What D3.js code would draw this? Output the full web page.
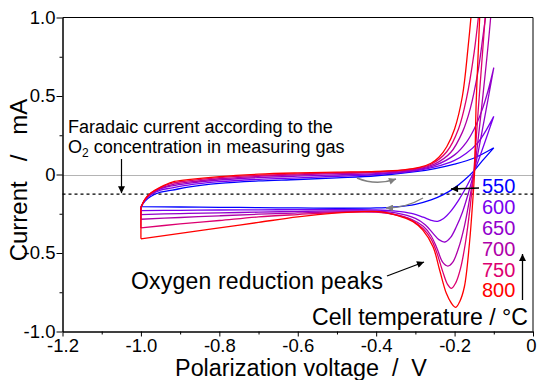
<!DOCTYPE html>
<html>
<head>
<meta charset="utf-8">
<script src="https://cdn.jsdelivr.net/npm/d3@7"></script>
<style>
  body { margin: 0; background: #fff; }
  svg { display: block; font-family: "Liberation Sans", Arial, sans-serif; }
</style>
</head>
<body>
<svg id="chart" width="537" height="380"></svg>
<script>
// ---- data -------------------------------------------------------------
const temperatures = ["550", "600", "650", "700", "750", "800"];
const seriesColors = ["#0000ff", "#7800ee", "#9200cc", "#ae00a8", "#dc0070", "#ff0000"];

// forward sweep: -1.0 V up to the turning point  [voltage V, current mA]
const forward550 = [[-1.0,-0.205],[-0.99,-0.17],[-0.975,-0.14],[-0.95,-0.113],[-0.92,-0.1],[-0.88,-0.08],[-0.8,-0.056],[-0.7,-0.041],[-0.6,-0.032],[-0.5,-0.021],[-0.4,-0.008],[-0.3,0.018],[-0.25,0.038],[-0.2,0.066],[-0.15,0.105],[-0.1,0.17]];
const forward600 = [[-1.0,-0.21],[-0.99,-0.165],[-0.975,-0.13],[-0.95,-0.1],[-0.92,-0.085],[-0.88,-0.067],[-0.8,-0.046],[-0.7,-0.031],[-0.6,-0.021],[-0.5,-0.011],[-0.4,0.0],[-0.3,0.024],[-0.25,0.048],[-0.2,0.09],[-0.17,0.135],[-0.14,0.205],[-0.12,0.28],[-0.1,0.37]];
const forward650 = [[-1.0,-0.21],[-0.99,-0.163],[-0.975,-0.126],[-0.95,-0.092],[-0.92,-0.072],[-0.88,-0.056],[-0.8,-0.035],[-0.7,-0.02],[-0.6,-0.01],[-0.5,-0.002],[-0.4,0.006],[-0.3,0.028],[-0.25,0.058],[-0.2,0.125],[-0.17,0.205],[-0.15,0.29],[-0.13,0.41],[-0.115,0.53],[-0.1,0.68]];
const forward700 = [[-1.0,-0.21],[-0.99,-0.162],[-0.975,-0.123],[-0.95,-0.087],[-0.92,-0.064],[-0.88,-0.049],[-0.8,-0.027],[-0.7,-0.012],[-0.6,-0.002],[-0.5,0.006],[-0.4,0.013],[-0.3,0.033],[-0.25,0.068],[-0.21,0.14],[-0.18,0.27],[-0.16,0.42],[-0.14,0.66],[-0.125,0.93],[-0.112,1.15],[-0.1,1.3]];
const forward750 = [[-1.0,-0.21],[-0.99,-0.16],[-0.975,-0.12],[-0.95,-0.083],[-0.92,-0.055],[-0.88,-0.04],[-0.8,-0.02],[-0.7,-0.006],[-0.6,0.004],[-0.5,0.011],[-0.4,0.017],[-0.3,0.037],[-0.26,0.065],[-0.22,0.145],[-0.19,0.29],[-0.17,0.48],[-0.15,0.78],[-0.135,1.1],[-0.12,1.45],[-0.1,1.75]];
const forward800 = [[-1.0,-0.21],[-0.99,-0.158],[-0.975,-0.118],[-0.95,-0.08],[-0.92,-0.048],[-0.88,-0.033],[-0.8,-0.013],[-0.7,0.002],[-0.6,0.01],[-0.5,0.015],[-0.4,0.02],[-0.33,0.03],[-0.29,0.045],[-0.26,0.072],[-0.24,0.11],[-0.22,0.177],[-0.2,0.29],[-0.18,0.5],[-0.166,0.8],[-0.155,1.1],[-0.145,1.5],[-0.13,2.2],[-0.1,3.5]];

// reverse sweep: turning point back down to -1.0 V
const reverse550 = [[-0.1,0.17],[-0.13,0.085],[-0.15,0.025],[-0.175,-0.035],[-0.2,-0.085],[-0.23,-0.13],[-0.26,-0.162],[-0.3,-0.19],[-0.35,-0.206],[-0.4,-0.213],[-0.5,-0.215],[-0.6,-0.213],[-0.7,-0.211],[-0.8,-0.209],[-0.9,-0.207],[-1.0,-0.205]];
const reverse600 = [[-0.1,0.37],[-0.125,0.19],[-0.15,0.02],[-0.17,-0.08],[-0.19,-0.165],[-0.21,-0.235],[-0.228,-0.28],[-0.243,-0.298],[-0.26,-0.292],[-0.28,-0.272],[-0.31,-0.248],[-0.35,-0.233],[-0.4,-0.226],[-0.5,-0.223],[-0.6,-0.224],[-0.7,-0.225],[-0.8,-0.226],[-0.9,-0.228],[-1.0,-0.23]];
const reverse650 = [[-0.1,0.68],[-0.125,0.34],[-0.15,0.02],[-0.165,-0.12],[-0.18,-0.24],[-0.195,-0.33],[-0.21,-0.4],[-0.225,-0.43],[-0.24,-0.415],[-0.255,-0.375],[-0.275,-0.32],[-0.3,-0.28],[-0.35,-0.245],[-0.4,-0.233],[-0.5,-0.232],[-0.6,-0.235],[-0.7,-0.24],[-0.8,-0.244],[-0.9,-0.249],[-1.0,-0.255]];
const reverse700 = [[-0.1,1.3],[-0.108,1.0],[-0.13,0.45],[-0.15,0.02],[-0.162,-0.16],[-0.175,-0.33],[-0.19,-0.47],[-0.205,-0.56],[-0.217,-0.583],[-0.23,-0.56],[-0.245,-0.47],[-0.26,-0.39],[-0.28,-0.33],[-0.31,-0.285],[-0.35,-0.255],[-0.4,-0.238],[-0.5,-0.238],[-0.6,-0.245],[-0.7,-0.253],[-0.8,-0.263],[-0.9,-0.274],[-1.0,-0.285]];
const reverse750 = [[-0.1,1.75],[-0.122,1.0],[-0.14,0.4],[-0.151,0.02],[-0.16,-0.2],[-0.172,-0.43],[-0.185,-0.6],[-0.197,-0.69],[-0.208,-0.725],[-0.218,-0.7],[-0.23,-0.62],[-0.245,-0.5],[-0.26,-0.41],[-0.28,-0.345],[-0.31,-0.29],[-0.35,-0.257],[-0.4,-0.24],[-0.5,-0.242],[-0.6,-0.255],[-0.7,-0.27],[-0.8,-0.293],[-0.9,-0.315],[-1.0,-0.34]];
const reverse800 = [[-0.1,3.5],[-0.136,1.0],[-0.145,0.45],[-0.149,0.02],[-0.154,-0.18],[-0.162,-0.436],[-0.175,-0.715],[-0.187,-0.81],[-0.197,-0.846],[-0.208,-0.82],[-0.221,-0.757],[-0.238,-0.61],[-0.255,-0.46],[-0.281,-0.354],[-0.306,-0.3],[-0.349,-0.258],[-0.391,-0.237],[-0.45,-0.238],[-0.5,-0.245],[-0.6,-0.27],[-0.7,-0.305],[-0.8,-0.34],[-0.9,-0.375],[-1.0,-0.41]];

const forwardSweeps = [forward550, forward600, forward650, forward700, forward750, forward800];
const reverseSweeps = [reverse550, reverse600, reverse650, reverse700, reverse750, reverse800];

const xMajorTicks = [-1.2, -1.0, -0.8, -0.6, -0.4, -0.2, 0];
const xTickLabels = ["-1.2", "-1.0", "-0.8", "-0.6", "-0.4", "-0.2", "0"];
const xMinorTicks = [-1.1, -0.9, -0.7, -0.5, -0.3, -0.1];
const yMajorTicks = [-1.0, -0.5, 0, 0.5, 1.0];
const yTickLabels = ["-1.0", "-0.5", "0", "0.5", "1.0"];
const yMinorTicks = [-0.75, -0.25, 0.25, 0.75];

const zeroLevel = 0;
const faradaicLevel = -0.125;

// ---- layout ------------------------------------------------------------
const svg = d3.select("#chart");
const x = d3.scaleLinear().domain([-1.2, 0]).range([62.5, 533]);
const y = d3.scaleLinear().domain([-1.0, 1.0]).range([331.5, 17.5]);

// scale a text's font size so that it spans the given width
function fitWidth(sel, width) {
  const w = sel.node().getComputedTextLength();
  const fs = parseFloat(sel.attr("font-size"));
  if (w > 0) sel.attr("font-size", (fs * width / w).toFixed(2) + "px");
  return sel;
}

const defs = svg.append("defs");
defs.append("clipPath").attr("id", "plotClip")
  .append("rect").attr("x", 62.5).attr("y", 17.5).attr("width", 470.5).attr("height", 314);

function marker(id, color) {
  defs.append("marker").attr("id", id)
    .attr("viewBox", "0 0 10 10").attr("refX", 10).attr("refY", 5)
    .attr("markerWidth", 9).attr("markerHeight", 7)
    .attr("markerUnits", "userSpaceOnUse").attr("orient", "auto")
    .append("path").attr("d", "M0,0 L10,5 L0,10 Z").attr("fill", color);
}
marker("headBlack", "#000");
marker("headGray", "#7f7f7f");

// zero reference
svg.append("line")
  .attr("x1", x(-1.2)).attr("x2", x(0))
  .attr("y1", Math.round(y(zeroLevel)) + 0.5).attr("y2", Math.round(y(zeroLevel)) + 0.5)
  .attr("stroke", "#b4b4b4").attr("stroke-width", 1);

// Faradaic current level
svg.append("line")
  .attr("x1", x(-1.2)).attr("x2", x(0))
  .attr("y1", y(faradaicLevel)).attr("y2", y(faradaicLevel))
  .attr("stroke", "#000").attr("stroke-width", 1.2).attr("stroke-dasharray", "3,3");

// ---- voltammograms ---------------------------------------------------
const branch = d3.line()
  .x(d => x(d[0])).y(d => y(d[1]))
  .curve(d3.curveCatmullRom.alpha(0.5));

const curves = svg.append("g").attr("clip-path", "url(#plotClip)");
temperatures.forEach((t, i) => {
  const fwd = forwardSweeps[i], rev = reverseSweeps[i];
  const last = rev[rev.length - 1], first = fwd[0];
  const d = branch(fwd) + branch(rev) +
    `M${x(last[0])},${y(last[1])}L${x(first[0])},${y(first[1])}`;
  curves.append("path")
    .attr("d", d)
    .attr("fill", "none")
    .attr("stroke", seriesColors[i])
    .attr("stroke-width", 1.3)
    .attr("stroke-linejoin", "round");
});

// ---- axes ---------------------------------------------------------------
const tickFont = "18.5px";
svg.append("g").attr("class", "x-axis").attr("transform", `translate(0,${y(-1.0)})`)
  .call(d3.axisBottom(x).tickValues(xMajorTicks).tickFormat((d, i) => xTickLabels[i])
    .tickSize(5).tickPadding(2).tickSizeOuter(0));
svg.append("g").attr("transform", `translate(0,${y(-1.0)})`)
  .call(d3.axisBottom(x).tickValues(xMinorTicks).tickFormat("").tickSize(3).tickSizeOuter(0));

svg.append("g").attr("transform", `translate(${x(-1.2)},0)`)
  .call(d3.axisLeft(y).tickValues(yMajorTicks).tickFormat((d, i) => yTickLabels[i])
    .tickSize(6).tickPadding(1).tickSizeOuter(0));
svg.append("g").attr("transform", `translate(${x(-1.2)},0)`)
  .call(d3.axisLeft(y).tickValues(yMinorTicks).tickFormat("").tickSize(3).tickSizeOuter(0));

svg.selectAll(".domain, .tick line").attr("stroke", "#000").attr("stroke-width", 1);
svg.selectAll(".tick text")
  .attr("font-family", "Liberation Sans, Arial, sans-serif")
  .attr("font-size", tickFont).attr("fill", "#000");
// keep the last x label inside the canvas
svg.selectAll(".x-axis .tick text").filter((d, i) => i === xMajorTicks.length - 1).attr("dx", -2);

// top and right frame
svg.append("path")
  .attr("d", `M${x(-1.2)},${y(1.0)}H${x(0)}V${y(-1.0)}`)
  .attr("fill", "none").attr("stroke", "#000").attr("stroke-width", 1);

// axis titles
fitWidth(svg.append("text")
  .attr("x", 301).attr("y", 376)
  .attr("text-anchor", "middle").attr("font-size", "23px")
  .style("white-space", "pre")
  .text("Polarization voltage  /  V"), 252);

svg.append("text")
  .attr("transform", "translate(27,180) rotate(-90)")
  .attr("text-anchor", "middle").attr("font-size", "24px")
  .style("white-space", "pre")
  .text("Current   /   mA");

// ---- annotations -------------------------------------------------------
const note1 = fitWidth(svg.append("text").attr("font-size", "18px")
  .attr("x", 68).attr("y", 133).text("Faradaic current according to the"), 265);
const l2 = svg.append("text").attr("font-size", note1.attr("font-size")).attr("x", 68).attr("y", 153);
l2.append("tspan").text("O");
l2.append("tspan").attr("dy", 4).attr("font-size", "12px").text("2");
l2.append("tspan").attr("dy", -4).text(" concentration in measuring gas");

svg.append("line")
  .attr("x1", 121.5).attr("y1", 159).attr("x2", 121.5).attr("y2", y(faradaicLevel) - 1)
  .attr("stroke", "#000").attr("stroke-width", 1.2).attr("marker-end", "url(#headBlack)");

svg.append("text")
  .attr("x", 131).attr("y", 289).attr("font-size", "23px")
  .attr("textLength", 252).attr("lengthAdjust", "spacing")
  .text("Oxygen reduction peaks");
svg.append("line")
  .attr("x1", 387).attr("y1", 276).attr("x2", 424).attr("y2", 262)
  .attr("stroke", "#000").attr("stroke-width", 1.3).attr("marker-end", "url(#headBlack)");

fitWidth(svg.append("text")
  .attr("x", 528).attr("y", 324.5).attr("text-anchor", "end").attr("font-size", "23px")
  .text("Cell temperature / °C"), 216);

// temperature labels
temperatures.forEach((t, i) => {
  svg.append("text")
    .attr("x", 482).attr("y", 193.3 + i * 20.8)
    .attr("font-size", "20px").attr("fill", seriesColors[i])
    .text(t);
});
svg.append("line")
  .attr("x1", 522.5).attr("y1", 300).attr("x2", 522.5).attr("y2", 254)
  .attr("stroke", "#000").attr("stroke-width", 1.3).attr("marker-end", "url(#headBlack)");

// arrow from the 550 label to its curve
svg.append("line")
  .attr("x1", 479).attr("y1", 188).attr("x2", 451).attr("y2", 189)
  .attr("stroke", "#000").attr("stroke-width", 1.3).attr("marker-end", "url(#headBlack)");

// sweep direction arrows
svg.append("path")
  .attr("d", "M357,178 Q376,186 396,179")
  .attr("fill", "none").attr("stroke", "#7f7f7f").attr("stroke-width", 1.4)
  .attr("marker-end", "url(#headGray)");
svg.append("path")
  .attr("d", "M423,198 Q406,208 386,208")
  .attr("fill", "none").attr("stroke", "#7f7f7f").attr("stroke-width", 1.4)
  .attr("marker-end", "url(#headGray)");
</script>
</body>
</html>
